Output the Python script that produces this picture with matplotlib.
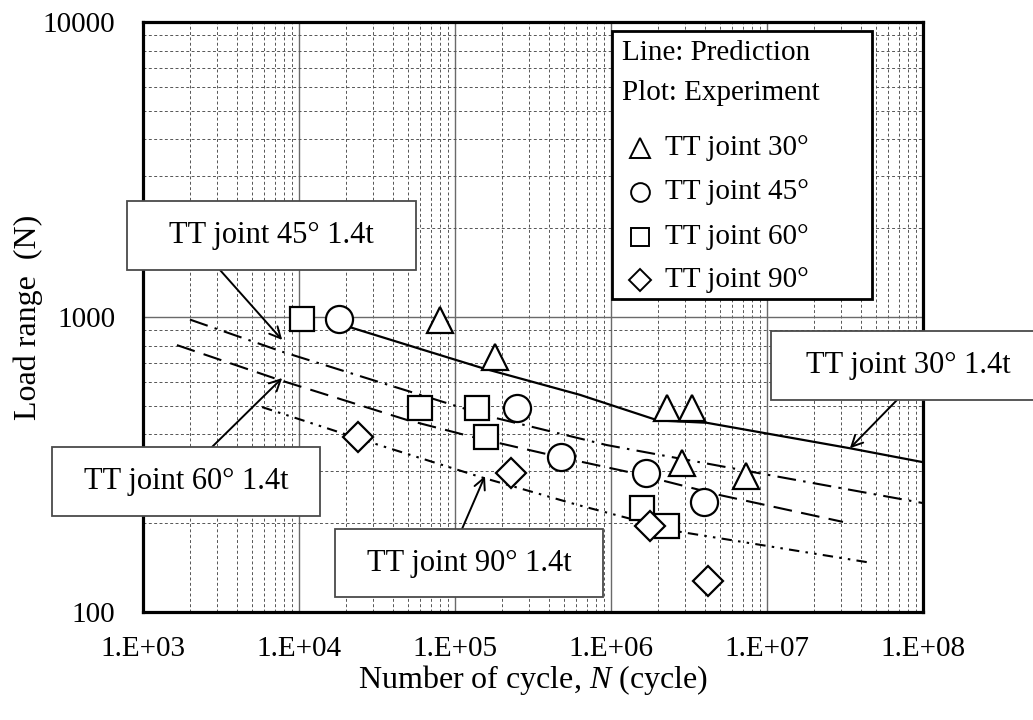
import matplotlib
matplotlib.use("Agg")
import matplotlib.pyplot as plt
from matplotlib.patches import Rectangle
from matplotlib.lines import Line2D
from matplotlib.ticker import LogLocator, FixedLocator, FixedFormatter, NullFormatter

plt.rcParams['font.family'] = ['Liberation Serif', 'DejaVu Serif']
plt.rcParams['mathtext.fontset'] = 'custom'
plt.rcParams['mathtext.it'] = 'Liberation Serif:italic'
plt.rcParams['mathtext.rm'] = 'Liberation Serif'

# ---------------- data ----------------
tri_x = [8.0e4, 1.8e5, 2.3e6, 3.3e6, 2.85e6, 7.3e6]
tri_y = [980, 730, 490, 490, 320, 290]
circ_x = [1.8e4, 2.5e5, 4.8e5, 1.67e6, 3.95e6]
circ_y = [985, 490, 335, 296, 236]
sq_x = [1.04e4, 6.0e4, 1.38e5, 1.58e5, 1.58e6, 2.29e6]
sq_y = [985, 490, 490, 392, 225, 196]
dia_x = [2.4e4, 2.3e5, 1.78e6, 4.2e6]
dia_y = [392, 296, 196, 127]

pred30_x = [2.1e4, 6e4, 1.5e5, 6.3e5, 2.0e6, 4.1e6, 3.4e7, 1e8]
pred30_y = [925, 779, 671, 545, 446, 438, 359, 322]
pred45_x = [2e3, 7.9e3, 2.57e4, 1.72e5, 9.4e5, 1.2e7, 1e8]
pred45_y = [980, 761, 626, 458, 368, 287, 234]
pred60_x = [1.65e3, 7.55e3, 4.9e4, 1.3e5, 4.7e5, 1.38e6, 5e6, 3.07e7]
pred60_y = [803, 611, 448, 392, 335, 296, 249, 202]
pred90_x = [5.8e3, 2.57e4, 1.45e5, 6.05e5, 2.77e6, 4.57e7]
pred90_y = [495, 383, 287, 231, 187, 147]

xticks = [1e3, 1e4, 1e5, 1e6, 1e7, 1e8]
xtick_labels = ["1.E+03", "1.E+04", "1.E+05", "1.E+06", "1.E+07", "1.E+08"]
yticks = [100, 1000, 10000]
ytick_labels = ["100", "1000", "10000"]

legend_labels = ["TT joint 30\u00b0", "TT joint 45\u00b0", "TT joint 60\u00b0", "TT joint 90\u00b0"]
ann_labels = ["TT joint 45\u00b0 1.4t", "TT joint 60\u00b0 1.4t", "TT joint 90\u00b0 1.4t", "TT joint 30\u00b0 1.4t"]
# arrow tips on the prediction lines (data coords)
ann_tip_x = [7.8e3, 7.8e3, 1.556e5, 3.4e7]
ann_tip_y = [836, 621, 289, 359]

# ---------------- figure ----------------
W, H = 1033, 720
fig = plt.figure(figsize=(W / 100, H / 100), dpi=100)
ax = fig.add_axes([143 / W, 1 - 612 / H, (923 - 143) / W, (612 - 22) / H])
ax.set_xscale('log')
ax.set_yscale('log')
ax.set_xlim(1e3, 1e8)
ax.set_ylim(100, 10000)

# grid
ax.xaxis.set_major_locator(FixedLocator(xticks))
ax.xaxis.set_major_formatter(FixedFormatter(xtick_labels))
ax.yaxis.set_major_locator(FixedLocator(yticks))
ax.yaxis.set_major_formatter(FixedFormatter(ytick_labels))
ax.xaxis.set_minor_locator(LogLocator(base=10, subs=range(2, 10)))
ax.yaxis.set_minor_locator(LogLocator(base=10, subs=range(2, 10)))
ax.xaxis.set_minor_formatter(NullFormatter())
ax.yaxis.set_minor_formatter(NullFormatter())
ax.grid(True, which='major', color='#6a6a6a', lw=1.0, ls='-', zorder=0)
ax.grid(True, which='minor', color='#555555', lw=0.7, ls=(0, (3, 2.5)), zorder=0)
ax.set_axisbelow(True)
ax.tick_params(which='both', length=0)
ax.tick_params(axis='x', pad=17, labelsize=21)
ax.tick_params(axis='y', pad=20, labelsize=21)
for s in ax.spines.values():
    s.set_linewidth(2.3)
    s.set_color('black')

# prediction lines
ax.plot(pred30_x, pred30_y, color='black', lw=1.6, ls='-', zorder=3)
ax.plot(pred45_x, pred45_y, color='black', lw=1.5, ls=(0, (9, 3.5, 1.2, 3.5)), zorder=3)
ax.plot(pred60_x, pred60_y, color='black', lw=1.5, ls=(0, (9, 4.5)), zorder=3)
ax.plot(pred90_x, pred90_y, color='black', lw=1.5, ls=(0, (5, 3, 1.2, 3, 1.2, 3)), zorder=3)

# experiments
mk = dict(ls='none', mfc='white', mec='black', mew=1.6, zorder=5)
ax.plot(tri_x, tri_y, marker='^', ms=19, **mk)
ax.plot(circ_x, circ_y, marker='o', ms=19.5, **mk)
ax.plot(sq_x, sq_y, marker='s', ms=17, **mk)
ax.plot(dia_x, dia_y, marker='D', ms=15.5, **mk)

# ---------------- annotation boxes ----------------
def fx(px):
    return px / W

def fy(py):
    return 1 - py / H

boxes = [  # left, top, right, bottom (pixels)
    (127, 201, 416, 270),
    (52, 447, 320, 516),
    (335, 529, 603, 597),
    (771, 331, 1045, 400),
]
arrow_start = [(220, 270), (212, 447), (462, 529), (897, 400)]

for (l, t, r, b), lab, (sx, sy), tx, ty in zip(boxes, ann_labels, arrow_start, ann_tip_x, ann_tip_y):
    rect = Rectangle((fx(l), fy(b)), fx(r) - fx(l), fy(t) - fy(b), transform=fig.transFigure,
                     facecolor='white', edgecolor='#4a4a4a', lw=1.3, zorder=10, clip_on=False)
    ax.add_patch(rect)
    ax.text(fx((l + r) / 2), fy((t + b) / 2), lab, transform=fig.transFigure, ha='center',
            va='center', fontsize=22, zorder=11, clip_on=False)
    ax.annotate('', xy=(tx, ty), xycoords='data', xytext=(fx(sx), fy(sy)),
                textcoords='figure fraction',
                arrowprops=dict(arrowstyle='->', lw=1.4, color='black', mutation_scale=20,
                                shrinkA=0, shrinkB=0), zorder=9)

# ---------------- legend (drawn manually) ----------------
lg_l, lg_t, lg_r, lg_b = 612, 31, 872, 299
ax.add_patch(Rectangle((fx(lg_l), fy(lg_b)), fx(lg_r) - fx(lg_l), fy(lg_t) - fy(lg_b),
                       transform=fig.transFigure, facecolor='white', edgecolor='black',
                       lw=2.0, zorder=10, clip_on=False))
fig.text(fx(622), fy(53), "Line: Prediction", fontsize=21, va='center', ha='left', zorder=11)
fig.text(fx(622), fy(93), "Plot: Experiment", fontsize=21, va='center', ha='left', zorder=11)
leg_markers = ['^', 'o', 's', 'D']
leg_ms = [14, 13.5, 12.5, 11]
leg_y = [148, 192, 237, 280]
for m, s, yy, lab in zip(leg_markers, leg_ms, leg_y, legend_labels):
    fig.add_artist(Line2D([fx(640)], [fy(yy)], marker=m, ms=s, mfc='white', mec='black',
                          mew=1.4, ls='none', transform=fig.transFigure, zorder=12))
    fig.text(fx(665), fy(yy), lab, fontsize=21, va='center', ha='left', zorder=12)

# axis labels
fig.text(fx(533), fy(680), "Number of cycle, $N$ (cycle)", fontsize=23, ha='center', va='center')
fig.text(fx(28), fy(317), "Load range  (N)", fontsize=23, ha='center', va='center', rotation=90)

fig.savefig("out.png", dpi=100)
